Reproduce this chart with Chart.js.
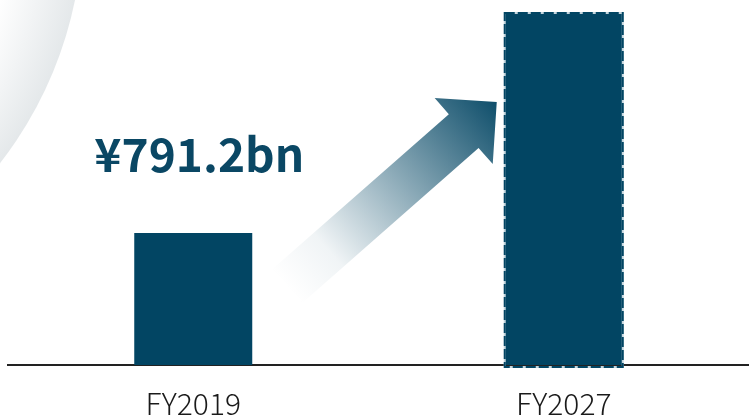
<!DOCTYPE html>
<html><head><meta charset="utf-8">
<script src="https://cdn.jsdelivr.net/npm/chart.js@4"></script>
<style>html,body{margin:0;padding:0;background:#fff;overflow:hidden;} canvas{display:block;}</style>
</head><body>
<canvas id="c" width="749" height="419"></canvas>
<script>
const categories = ["FY2019", "FY2027"];
const revenue = [791.2, 2116];
const valueLabels = ["¥791.2bn", ""];
const projected = [false, true];

const BAR = "#024563";
const LABEL = "#0a4764";

const decoPlugin = {
  id: 'deco',
  beforeDraw(chart) {
    const ctx = chart.ctx;
    ctx.save();
    ctx.fillStyle = '#fff';
    ctx.fillRect(0, 0, chart.width, chart.height);
    const cx = -312, cy = -79, R = 395;
    const g = ctx.createRadialGradient(cx, cy, R - 75, cx, cy, R);
    g.addColorStop(0, 'rgba(228,232,234,0)');
    g.addColorStop(1, 'rgba(228,232,234,1)');
    ctx.fillStyle = g;
    ctx.beginPath();
    ctx.arc(cx, cy, R, 0, Math.PI * 2);
    ctx.fill();
    ctx.restore();
  },
  beforeDatasetsDraw(chart) {
    const meta = chart.getDatasetMeta(0);
    const b0 = meta.data[0], b1 = meta.data[1];
    const ctx = chart.ctx;
    const tailX = b0.x + b0.width / 2 + 34, tailY = b0.y + 54;
    const tipX = b1.x - b1.width / 2 - 8, tipY = b1.y + 90;
    const ang = Math.atan2(tipY - tailY, tipX - tailX);
    const L = Math.hypot(tipX - tailX, tipY - tailY);
    const hw = 22.5, hh = 44, hl = 44;
    ctx.save();
    ctx.translate(tailX, tailY);
    ctx.rotate(ang);
    const g = ctx.createLinearGradient(0, 0, L, 0);
    g.addColorStop(0, 'rgba(2,69,99,0)');
    g.addColorStop(0.2, 'rgba(2,69,99,0.06)');
    g.addColorStop(1, 'rgba(2,69,99,0.95)');
    ctx.fillStyle = g;
    ctx.beginPath();
    ctx.moveTo(0, -hw);
    ctx.lineTo(L - hl, -hw);
    ctx.lineTo(L - hl, -hh);
    ctx.lineTo(L, 0);
    ctx.lineTo(L - hl, hh);
    ctx.lineTo(L - hl, hw);
    ctx.lineTo(0, hw);
    ctx.closePath();
    ctx.fill();
    ctx.restore();
  },
  afterDatasetsDraw(chart) {
    const meta = chart.getDatasetMeta(0);
    const ctx = chart.ctx;
    meta.data.forEach((bar, i) => {
      const {x, y, base, width} = bar.getProps(['x', 'y', 'base', 'width'], true);
      if (projected[i]) {
        const l = x - width / 2 - 1, w = width + 2, t = y, h = base + 3 - y;
        ctx.save();
        ctx.lineWidth = 2;
        ctx.strokeStyle = '#c5d6de';
        ctx.strokeRect(l + 1, t + 1, w - 2, h - 2);
        ctx.setLineDash([10, 3]);
        ctx.strokeStyle = BAR;
        ctx.strokeRect(l + 1, t + 1, w - 2, h - 2);
        ctx.restore();
      }
      if (valueLabels[i]) {
        ctx.save();
        ctx.font = 'bold 46px "Noto Sans CJK JP", "Noto Sans", sans-serif';
        ctx.fillStyle = LABEL;
        ctx.textAlign = 'center';
        ctx.textBaseline = 'alphabetic';
        ctx.fillText(valueLabels[i], x + 6, y - 61);
        ctx.restore();
      }
    });
  }
};

new Chart(document.getElementById('c'), {
  type: 'bar',
  data: {
    labels: categories,
    datasets: [{
      data: revenue,
      backgroundColor: BAR,
      borderWidth: 0,
      barPercentage: 0.637,
      categoryPercentage: 0.5
    }]
  },
  options: {
    responsive: false,
    animation: false,
    layout: { padding: { left: 8, right: 0, top: 0, bottom: -24 } },
    plugins: { legend: { display: false }, tooltip: { enabled: false } },
    scales: {
      x: {
        type: 'category',
        offset: true,
        grid: { display: false, drawTicks: false },
        border: { display: true, color: '#222', width: 2 },
        ticks: {
          color: '#1a1a1a',
          padding: 24,
          font: { family: '"Noto Sans CJK JP", "Liberation Sans", sans-serif', size: 30, weight: 300, lineHeight: 1 }
        }
      },
      y: { display: false, min: 0, max: 2188 }
    }
  },
  plugins: [decoPlugin]
});
</script>
</body></html>
